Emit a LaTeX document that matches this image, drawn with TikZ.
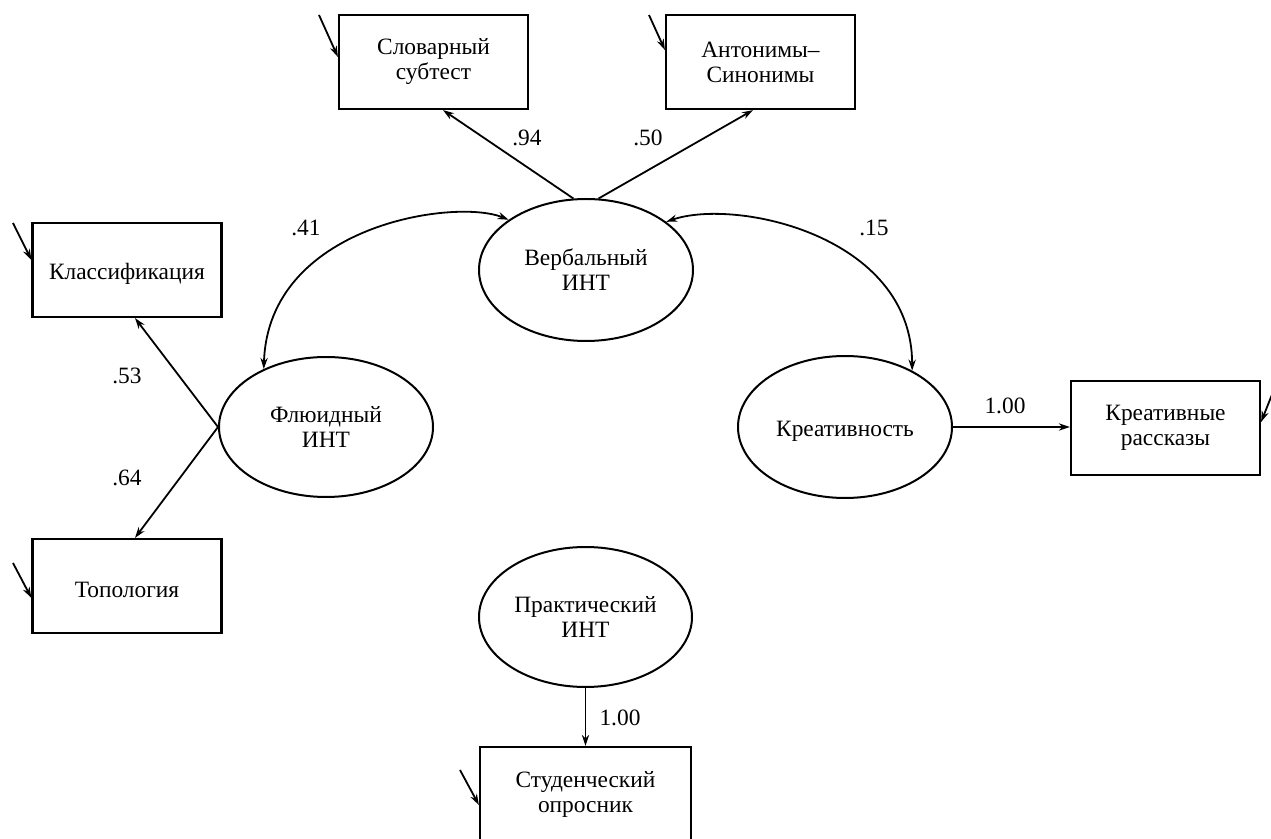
\documentclass[tikz,border=0pt]{standalone}
\usepackage{fontspec}
\setmainfont{Liberation Serif}
\usetikzlibrary{arrows.meta,shapes.geometric,calc}
\begin{document}
\begin{tikzpicture}[x=0.5pt,y=-0.5pt,
  font=\fontsize{11.7}{12.5}\selectfont,
  box/.style={draw, line width=1.1pt, rectangle, minimum width=94.5pt, minimum height=47pt, align=center, inner sep=0pt, execute at begin node=\rule{0pt}{12pt}},
  lat/.style={draw, line width=1.0pt, ellipse, minimum width=107pt, minimum height=71pt, align=center, inner sep=0pt, execute at begin node=\rule{0pt}{12pt}},
  arr/.style={line width=0.9pt, -{Stealth[length=5.5pt,width=3.6pt]}},
  darr/.style={line width=0.9pt, {Stealth[length=5.5pt,width=3.6pt]}-{Stealth[length=5.5pt,width=3.6pt]}},
  lbl/.style={inner sep=0pt}]
\useasboundingbox (0,0) rectangle (1271,839);
% observed variables
\node[box] (sl) at (433.5,62) {Словарный\\субтест};
\node[box] (an) at (760.5,62) {Антонимы–\\Синонимы};
\node[box] (kl) at (127,270) {Классификация};
\node[box] (tp) at (127,586) {Топология};
\node[box] (kr) at (1165.5,428) {Креативные\\рассказы};
\node[box, minimum width=105.5pt] (st) at (585.5,794) {Студенческий\\опросник};
% latent variables
\node[lat] (vb) at (586,270) {Вербальный\\ИНТ};
\node[lat, minimum height=70pt] (fl) at (326,427) {Флюидный\\ИНТ};
\node[lat] (cr) at (845,427) {Креативность};
\node[lat, minimum width=106.5pt, minimum height=70pt] (pr) at (585.5,617) {Практический\\ИНТ};
% loadings
\draw[arr] (vb.100) -- ($(sl.south)+(9.5,0)$);
\draw[arr] (vb.80) -- ($(an.south)+(-7.5,0)$);
\draw[arr] (fl.west) -- ($(kl.south)+(8,0)$);
\draw[arr] (fl.west) -- ($(tp.north)+(8,0)$);
\draw[arr] (cr.east) -- (cr.east -| kr.west);
\draw[arr] (pr.south) -- (st.north);
% correlations
\draw[darr] (vb.147) .. controls (455,198) and (268,225) .. (fl.137);
\draw[darr] (vb.31) .. controls (735,198) and (912,235) .. (cr.40);
% error terms
\coordinate (e1) at (319,15);
\coordinate (e2) at (649,15);
\coordinate (e3) at (13,223);
\coordinate (e4) at (13,563);
\coordinate (e5) at (460,770);
\coordinate (e6) at (1277,382);
\draw[arr] (e1) -- ($(sl.west)+(0,-5)$);
\draw[arr] (e2) -- ($(an.west)+(0,-12)$);
\draw[arr] (e3) -- ($(kl.west)+(0,-10)$);
\draw[arr] (e4) -- ($(tp.west)+(0,12)$);
\draw[arr] (e5) -- ($(st.west)+(0,11)$);
\draw[arr] (e6) -- ($(kr.east)+(0,-6)$);
% labels
\node[lbl] (l94) at (527,138) {.94};
\node[lbl] (l50) at (648,138) {.50};
\node[lbl] (l41) at (306,228) {.41};
\node[lbl] (l15) at (874,228) {.15};
\node[lbl] (l53) at (127,376) {.53};
\node[lbl] (l64) at (127,478) {.64};
\node[lbl] (l100a) at (1005,406) {1.00};
\node[lbl] (l100b) at (620,718) {1.00};
\end{tikzpicture}
\end{document}
